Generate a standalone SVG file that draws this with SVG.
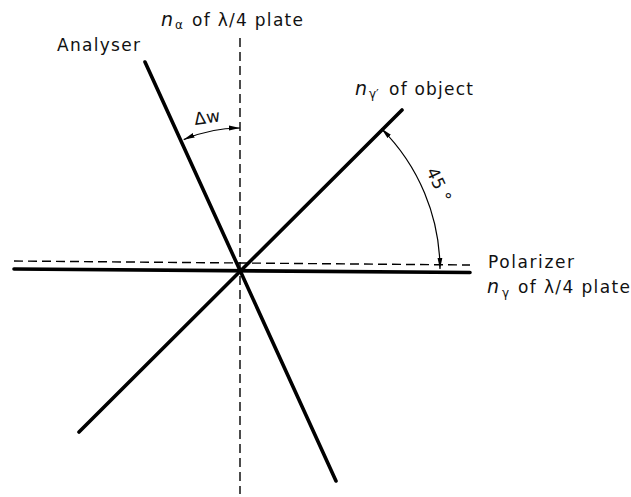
<svg xmlns="http://www.w3.org/2000/svg" width="631" height="497" viewBox="0 0 631 497">
<style>
text{font-family:"DejaVu Sans","Liberation Sans",sans-serif;font-size:17px;fill:#111}
.it{font-style:italic;font-size:19px}
.sub{font-size:12px}
.thick{stroke:#000;stroke-width:3.6;stroke-linecap:round;fill:none}
.dash{stroke:#000;stroke-width:1.4;stroke-dasharray:9 5;fill:none}
.arc{stroke:#000;stroke-width:1.2;fill:none;marker-start:url(#ah);marker-end:url(#ah)}
</style>
<defs>
<marker id="ah" markerUnits="userSpaceOnUse" markerWidth="12" markerHeight="8" refX="11" refY="3" orient="auto-start-reverse">
<path d="M0,0.6 L11,3 L0,5.4 z" fill="#000"/>
</marker>
</defs>
<rect width="631" height="497" fill="#fff"/>
<g id="connectors">
<line id="axis-vertical" class="dash" x1="240" y1="38" x2="240" y2="494"/>
<line id="axis-horizontal" class="dash" x1="14" y1="261" x2="470" y2="265"/>
<line id="polarizer" class="thick" x1="14" y1="269" x2="470" y2="272.5"/>
<line id="analyser" class="thick" x1="145" y1="62" x2="336" y2="481"/>
<line id="object" class="thick" x1="79" y1="432" x2="402" y2="110"/>
<path id="arc-dw" class="arc" d="M240,128 A142,142 0 0 0 183.7,139.6"/>
<path id="arc-45" class="arc" d="M381.4,128.6 A200,200 0 0 1 440,269"/>
</g>
<g id="label-analyser"><text x="57" y="51" textLength="83">Analyser</text></g>
<g id="label-top"><text class="it" x="161" y="26">n</text><text class="sub" x="175" y="29">α</text><text x="192" y="26" textLength="111">of λ/4 plate</text></g>
<g id="label-object"><text class="it" x="355" y="95">n</text><text class="sub" x="369" y="98">γ′</text><text x="389" y="95" textLength="84">of object</text></g>
<g id="label-polarizer"><text x="488" y="268" textLength="86">Polarizer</text></g>
<g id="label-bottom"><text class="it" x="487" y="293">n</text><text class="sub" x="502" y="297">γ</text><text x="518" y="293" textLength="112">of λ/4 plate</text></g>
<g id="label-dw"><text x="195" y="125" transform="rotate(-8 195 125)" textLength="26">Δw</text></g>
<g id="label-45"><text transform="translate(426,171) rotate(65)" font-size="19" textLength="36">45 °</text></g>
</svg>
